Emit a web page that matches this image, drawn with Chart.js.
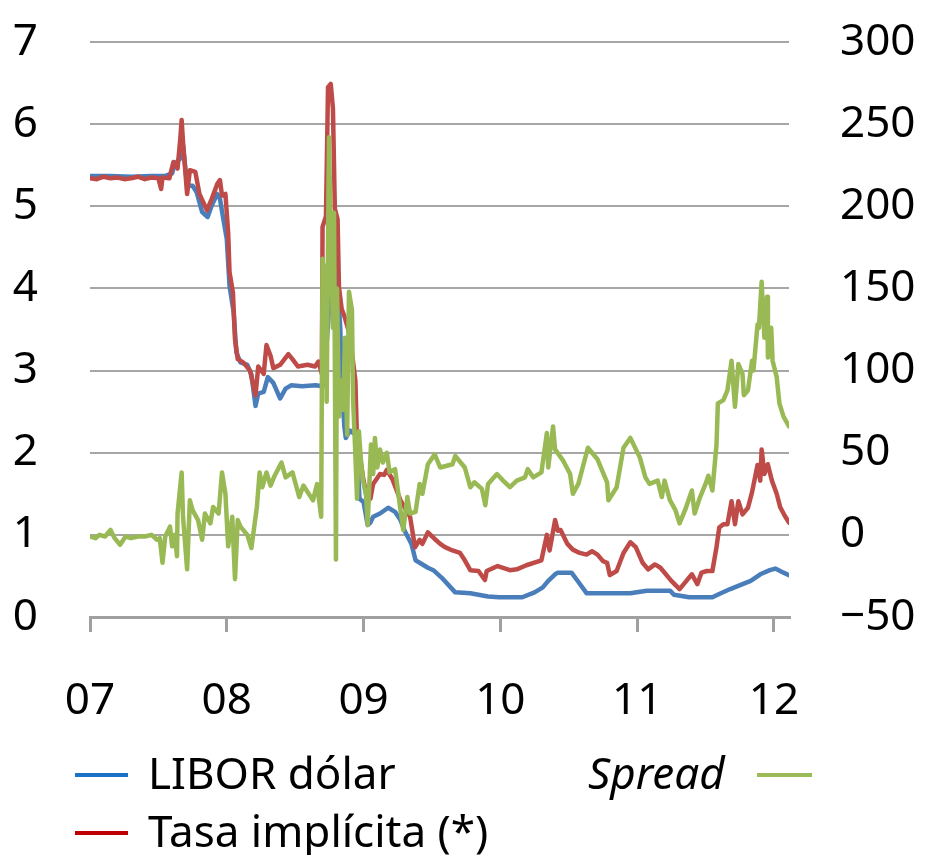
<!DOCTYPE html>
<html>
<head>
<meta charset="utf-8">
<script src="https://cdn.jsdelivr.net/npm/chart.js@4.4.1/dist/chart.umd.min.js"></script>
<style>
  body { margin: 0; background: #fff; }
  #wrap { position: relative; width: 927px; height: 855px; }
  .leyenda { position: absolute; font-family: 'Noto Sans', sans-serif; font-size: 44px; color: #000; line-height: 1; white-space: nowrap; }
  .raya { position: absolute; height: 4px; }
</style>
</head>
<body>
<div id="wrap">
  <canvas id="grafico" width="927" height="855"></canvas>
  <div class="raya" style="left:75px; top:773px; width:53px; background:#1a72c8;"></div>
  <div class="leyenda" style="left:148px; top:750px;">LIBOR dólar</div>
  <div class="raya" style="left:75px; top:831px; width:53px; background:#c00000;"></div>
  <div class="leyenda" style="left:148px; top:808px;">Tasa implícita (*)</div>
  <div class="leyenda" style="left:588px; top:750px; font-style:italic;">Spread</div>
  <div class="raya" style="left:757px; top:773px; width:55px; background:#9bbb59;"></div>
</div>
<script>
// años (fracción de año) y valores
const fechasLibor = [2007.00, 2007.15, 2007.30, 2007.45, 2007.55, 2007.60, 2007.62, 2007.66, 2007.68, 2007.71,
  2007.75, 2007.78, 2007.82, 2007.86, 2007.89, 2007.93, 2007.95, 2007.97, 2008.00, 2008.02,
  2008.05, 2008.07, 2008.10, 2008.15, 2008.18, 2008.21, 2008.23, 2008.27, 2008.30, 2008.34,
  2008.39, 2008.43, 2008.47, 2008.55, 2008.65, 2008.70, 2008.72, 2008.75, 2008.78, 2008.80,
  2008.81, 2008.83, 2008.84, 2008.86, 2008.87, 2008.90, 2008.94, 2008.95, 2008.97, 2009.00,
  2009.03, 2009.05, 2009.07, 2009.12, 2009.18, 2009.23, 2009.27, 2009.30, 2009.35, 2009.38,
  2009.41, 2009.47, 2009.51, 2009.57, 2009.67, 2009.78, 2009.91, 2009.99, 2010.12, 2010.16,
  2010.25, 2010.31, 2010.35, 2010.40, 2010.42, 2010.52, 2010.56, 2010.63, 2010.70, 2010.80,
  2010.95, 2011.07, 2011.24, 2011.27, 2011.38, 2011.55, 2011.60, 2011.68, 2011.83, 2011.90,
  2011.97, 2012.01, 2012.07, 2012.11];
const libor = [5.37, 5.37, 5.36, 5.37, 5.37, 5.40, 5.52, 5.58, 5.74, 5.25,
  5.25, 5.17, 4.93, 4.87, 5.01, 5.15, 5.09, 4.89, 4.60, 4.03,
  3.71, 3.22, 3.10, 3.07, 2.95, 2.57, 2.72, 2.74, 2.92, 2.85,
  2.66, 2.78, 2.82, 2.81, 2.82, 2.81, 3.10, 3.80, 4.20, 4.60,
  4.07, 3.50, 2.80, 2.31, 2.18, 2.27, 2.22, 2.10, 1.44, 1.40,
  1.12, 1.15, 1.22, 1.26, 1.33, 1.28, 1.18, 1.05, 0.89, 0.69,
  0.66, 0.60, 0.57, 0.48, 0.30, 0.29, 0.25, 0.24, 0.24, 0.24,
  0.30, 0.36, 0.44, 0.52, 0.54, 0.54, 0.45, 0.29, 0.29, 0.29,
  0.29, 0.32, 0.32, 0.27, 0.24, 0.24, 0.28, 0.34, 0.44, 0.52,
  0.57, 0.59, 0.54, 0.51];

const fechasTasa = [2007.00, 2007.05, 2007.10, 2007.15, 2007.20, 2007.25, 2007.30, 2007.35, 2007.40, 2007.45,
  2007.50, 2007.52, 2007.53, 2007.58, 2007.61, 2007.64, 2007.66, 2007.67, 2007.68, 2007.71,
  2007.73, 2007.77, 2007.80, 2007.855, 2007.89, 2007.93, 2007.95, 2007.965, 2007.99, 2008.01,
  2008.02, 2008.045, 2008.06, 2008.08, 2008.12, 2008.17, 2008.21, 2008.23, 2008.27, 2008.29,
  2008.32, 2008.34, 2008.39, 2008.45, 2008.48, 2008.52, 2008.59, 2008.645, 2008.67, 2008.695,
  2008.70, 2008.725, 2008.74, 2008.76, 2008.776, 2008.79, 2008.81, 2008.82, 2008.84, 2008.86,
  2008.89, 2008.915, 2008.94, 2008.95, 2008.97, 2008.996, 2009.025, 2009.05, 2009.07, 2009.12,
  2009.15, 2009.17, 2009.21, 2009.27, 2009.34, 2009.376, 2009.41, 2009.43, 2009.47, 2009.52,
  2009.56, 2009.595, 2009.65, 2009.705, 2009.74, 2009.78, 2009.84, 2009.887, 2009.90, 2009.98,
  2010.07, 2010.12, 2010.19, 2010.30, 2010.34, 2010.36, 2010.40, 2010.42, 2010.44, 2010.49,
  2010.53, 2010.58, 2010.63, 2010.67, 2010.71, 2010.75, 2010.78, 2010.80, 2010.85, 2010.90,
  2010.95, 2010.99, 2011.04, 2011.08, 2011.13, 2011.17, 2011.25, 2011.31, 2011.36, 2011.40,
  2011.44, 2011.47, 2011.51, 2011.55, 2011.58, 2011.60, 2011.63, 2011.66, 2011.69, 2011.715,
  2011.74, 2011.77, 2011.81, 2011.84, 2011.88, 2011.90, 2011.91, 2011.93, 2011.955, 2011.985,
  2012.02, 2012.045, 2012.08, 2012.11];
const tasa = [5.34, 5.33, 5.36, 5.34, 5.35, 5.33, 5.34, 5.36, 5.33, 5.35,
  5.34, 5.21, 5.35, 5.34, 5.54, 5.46, 5.82, 6.05, 5.78, 5.15,
  5.44, 5.42, 5.15, 4.95, 5.09, 5.27, 5.32, 5.13, 5.15, 4.68,
  4.20, 3.95, 3.38, 3.14, 3.10, 3.00, 2.70, 3.05, 2.96, 3.31,
  3.18, 3.03, 3.07, 3.20, 3.14, 3.05, 3.07, 3.05, 3.11, 2.96,
  4.75, 4.88, 6.45, 6.49, 6.19, 4.97, 4.84, 4.01, 3.75, 3.66,
  3.49, 3.22, 2.88, 2.27, 2.00, 1.70, 1.45, 1.44, 1.62, 1.74,
  1.73, 1.79, 1.68, 1.42, 1.22, 0.85, 0.94, 0.89, 1.03, 0.95,
  0.89, 0.85, 0.81, 0.78, 0.69, 0.57, 0.56, 0.45, 0.56, 0.62,
  0.57, 0.58, 0.63, 0.69, 1.00, 0.81, 1.18, 1.05, 1.06, 0.89,
  0.82, 0.78, 0.76, 0.80, 0.76, 0.68, 0.66, 0.51, 0.56, 0.78,
  0.91, 0.85, 0.66, 0.58, 0.64, 0.60, 0.44, 0.34, 0.44, 0.52,
  0.40, 0.54, 0.56, 0.56, 0.85, 1.09, 1.13, 1.13, 1.41, 1.13,
  1.41, 1.25, 1.33, 1.52, 1.85, 1.66, 2.04, 1.74, 1.86, 1.66,
  1.50, 1.34, 1.23, 1.15];

const fechasSpread = [2007.00, 2007.04, 2007.07, 2007.11, 2007.15, 2007.18, 2007.22, 2007.26, 2007.30, 2007.35,
  2007.40, 2007.45, 2007.49, 2007.51, 2007.53, 2007.55, 2007.585, 2007.60, 2007.62, 2007.636,
  2007.64, 2007.67, 2007.68, 2007.71, 2007.73, 2007.75, 2007.79, 2007.82, 2007.84, 2007.88,
  2007.90, 2007.94, 2007.965, 2007.99, 2008.01, 2008.04, 2008.06, 2008.08, 2008.10, 2008.15,
  2008.18, 2008.22, 2008.24, 2008.26, 2008.29, 2008.32, 2008.35, 2008.40, 2008.43, 2008.48,
  2008.53, 2008.56, 2008.63, 2008.66, 2008.69, 2008.70, 2008.71, 2008.725, 2008.73, 2008.747,
  2008.76, 2008.776, 2008.784, 2008.798, 2008.806, 2008.82, 2008.835, 2008.85, 2008.864, 2008.88,
  2008.893, 2008.915, 2008.923, 2008.937, 2008.952, 2008.966, 2008.98, 2008.996, 2009.018, 2009.03,
  2009.054, 2009.07, 2009.083, 2009.10, 2009.12, 2009.14, 2009.17, 2009.19, 2009.23, 2009.27,
  2009.29, 2009.32, 2009.34, 2009.38, 2009.41, 2009.43, 2009.47, 2009.52, 2009.56, 2009.65,
  2009.67, 2009.74, 2009.78, 2009.81, 2009.865, 2009.89, 2009.91, 2009.975, 2010.02, 2010.07,
  2010.12, 2010.18, 2010.20, 2010.24, 2010.30, 2010.34, 2010.35, 2010.385, 2010.40, 2010.46,
  2010.51, 2010.53, 2010.57, 2010.64, 2010.71, 2010.78, 2010.79, 2010.85, 2010.90, 2010.95,
  2010.98, 2011.02, 2011.06, 2011.09, 2011.15, 2011.18, 2011.20, 2011.24, 2011.28, 2011.31,
  2011.35, 2011.40, 2011.42, 2011.46, 2011.50, 2011.52, 2011.55, 2011.58, 2011.59, 2011.63,
  2011.66, 2011.69, 2011.715, 2011.74, 2011.77, 2011.78, 2011.81, 2011.84, 2011.85, 2011.88,
  2011.89, 2011.91, 2011.93, 2011.95, 2011.956, 2011.98, 2011.99, 2012.02, 2012.04, 2012.07,
  2012.11];
const spread = [-1, -2, 0, -1, 3, -2, -6, -1, -2, -1,
  -1, 0, -3, -2, -17, -1, 5, -7, 0, -13,
  13, 38, 11, -21, 21, 15, 9, -3, 13, 7,
  17, 13, 38, 25, -7, 11, -27, 9, 5, 0,
  -8, 17, 38, 29, 38, 30, 36, 44, 35, 38,
  23, 30, 21, 31, 11, 168, 94, 164, 81, 242,
  181, 126, 196, -15, 150, 72, 94, 76, 120, 61,
  148, 137, 83, 55, 22, 63, 46, 33, 24, 6,
  55, 37, 59, 41, 52, 44, 50, 38, 40, 15,
  3, 23, 13, 14, 31, 25, 43, 49, 41, 43,
  48, 41, 29, 32, 28, 18, 31, 37, 33, 29,
  33, 35, 40, 35, 38, 62, 41, 66, 52, 45,
  37, 25, 31, 53, 46, 32, 21, 29, 53, 59,
  54, 47, 35, 31, 33, 23, 33, 21, 15, 7,
  15, 27, 13, 23, 31, 36, 27, 55, 80, 82,
  88, 106, 78, 104, 98, 85, 88, 106, 100, 128,
  126, 154, 120, 145, 108, 126, 106, 96, 80, 72,
  66];

const etiquetasY = [0, 1, 2, 3, 4, 5, 6, 7];

function puntos(xs, ys) {
  return xs.map((x, i) => ({ x: x, y: ys[i] }));
}

const fuente = { family: "'Noto Sans', sans-serif", size: 44 };

function sinRelleno(scale) {
  scale.paddingTop = 0;
  scale.paddingBottom = 0;
  scale.paddingLeft = 0;
  scale.paddingRight = 0;
}

new Chart(document.getElementById('grafico'), {
  type: 'line',
  data: {
    datasets: [
      {
        label: 'Spread',
        data: puntos(fechasSpread, spread),
        yAxisID: 'yDer',
        borderColor: '#98b954',
        borderWidth: 4.5,
        order: 0
      },
      {
        label: 'Tasa implícita (*)',
        data: puntos(fechasTasa, tasa),
        yAxisID: 'yIzq',
        borderColor: '#be4b48',
        borderWidth: 4.5,
        order: 1
      },
      {
        label: 'LIBOR dólar',
        data: puntos(fechasLibor, libor),
        yAxisID: 'yIzq',
        borderColor: '#4a7ebb',
        borderWidth: 4.5,
        order: 2
      }
    ]
  },
  options: {
    responsive: false,
    animation: false,
    devicePixelRatio: 1,
    layout: { padding: { top: 42, left: 0, right: 0, bottom: 0 } },
    elements: {
      point: { radius: 0 },
      line: { tension: 0, borderJoinStyle: 'round', borderCapStyle: 'round' }
    },
    plugins: {
      legend: { display: false },
      tooltip: { enabled: false }
    },
    scales: {
      x: {
        type: 'linear',
        min: 2007,
        max: 2012.11,
        afterFit: function(scale) { scale.height = 238; sinRelleno(scale); },
        border: { display: true, color: '#a0a0a0', width: 3 },
        grid: { drawOnChartArea: false, drawTicks: true, tickLength: 15, color: '#a0a0a0', lineWidth: 3 },
        ticks: {
          stepSize: 1,
          includeBounds: false,
          autoSkip: false,
          maxRotation: 0,
          padding: 43,
          color: '#000',
          font: fuente,
          callback: function(v) { return String(v).slice(2); }
        }
      },
      yIzq: {
        position: 'left',
        min: 0,
        max: 7,
        afterFit: function(scale) { scale.width = 90; sinRelleno(scale); },
        afterBuildTicks: function(scale) { scale.ticks = etiquetasY.map(v => ({ value: v })); },
        border: { display: false },
        grid: { color: '#a6a6a6', lineWidth: 2, drawTicks: false },
        ticks: { padding: 52, color: '#000', font: fuente }
      },
      yDer: {
        position: 'right',
        min: -50,
        max: 300,
        afterFit: function(scale) { scale.width = 138; sinRelleno(scale); },
        border: { display: false },
        grid: { drawOnChartArea: false, drawTicks: false },
        ticks: {
          stepSize: 50,
          padding: 51,
          color: '#000',
          font: fuente,
          callback: function(v) { return v < 0 ? '\u2212' + Math.abs(v) : v; }
        }
      }
    }
  }
});
</script>
</body>
</html>
